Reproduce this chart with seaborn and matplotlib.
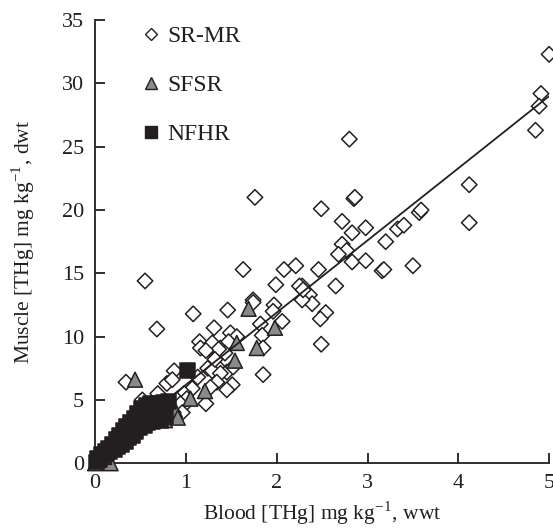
import numpy as np
import pandas as pd
import matplotlib
matplotlib.use("Agg")
import matplotlib.pyplot as plt
from matplotlib.lines import Line2D
import seaborn as sns

# SR-MR (open diamonds)
srmr_blood = [5.00, 4.91, 4.89, 4.85, 4.12, 4.12, 2.80, 2.85, 2.86, 2.49, 2.72, 2.83, 2.98,
              2.72, 2.77, 2.68, 2.83, 2.98, 3.20, 3.33, 3.40, 3.57, 3.59, 3.16, 3.18, 3.50,
              2.46, 2.28, 2.36, 2.39, 2.65, 2.54, 2.48, 2.49, 1.76, 1.63, 2.08, 2.21, 1.99,
              2.25, 1.74, 2.28, 1.08, 1.46, 1.74, 1.97, 1.96, 2.06, 1.82, 1.84, 1.31, 1.49,
              1.56, 1.15, 1.29, 1.38, 1.47, 1.85, 0.68, 0.87, 1.34, 1.43, 0.55, 1.35, 1.45,
              1.52, 1.51, 1.45, 1.85, 1.22, 1.07, 0.98, 0.98, 0.90, 0.79, 0.85, 0.34, 0.69,
              0.52, 1.24, 1.16, 1.36, 1.13, 1.29, 1.38, 1.34, 1.27, 1.01, 0.94, 0.96, 0.86,
              1.22, 1.32, 2.29, 0.05, 0.10, 0.20, 0.30, 0.40, 0.60]
srmr_muscle = [32.3, 29.2, 28.2, 26.3, 22.0, 19.0, 25.6, 20.9, 21.0, 20.1, 19.1, 18.2, 18.6,
               17.3, 16.8, 16.5, 15.9, 16.0, 17.5, 18.5, 18.8, 19.8, 20.0, 15.2, 15.3, 15.6,
               15.3, 14.0, 13.3, 12.6, 14.0, 11.9, 11.4, 9.4, 21.0, 15.3, 15.3, 15.6, 14.1,
               14.0, 12.9, 12.9, 11.8, 12.1, 12.7, 12.5, 12.0, 11.2, 11.0, 10.1, 10.7, 10.3,
               10.0, 9.6, 9.5, 9.1, 9.6, 9.1, 10.6, 7.3, 8.5, 8.7, 14.4, 7.6, 7.2,
               7.6, 6.2, 5.8, 7.0, 4.7, 5.9, 5.5, 4.6, 5.0, 6.3, 6.6, 6.4, 5.5,
               5.0, 7.5, 9.1, 9.0, 6.8, 7.3, 7.1, 6.4, 6.0, 5.1, 4.7, 4.0, 4.0,
               8.9, 8.2, 13.7, 0.3, 0.6, 1.2, 2.0, 2.4, 3.5]

# SFSR (grey triangles)
sfsr_blood = [0.00, 0.17, 0.44, 0.77, 0.88, 0.91, 1.05, 1.21, 1.54, 1.56, 1.69, 1.78, 1.98, 0.10]
sfsr_muscle = [0.0, 0.0, 6.6, 3.4, 4.2, 3.6, 5.1, 5.7, 8.1, 9.5, 12.2, 9.1, 10.7, 0.5]

# NFHR (black squares)
nfhr_blood = [0.01, 0.03, 0.05, 0.07, 0.09, 0.11, 0.13, 0.15, 0.16, 0.19, 0.21, 0.23, 0.25,
              0.27, 0.29, 0.31, 0.33, 0.35, 0.37, 0.39, 0.41, 0.43, 0.45, 0.47, 0.49, 0.51,
              0.54, 0.56, 0.58, 0.61, 0.63, 0.65, 0.68, 0.70, 0.72, 0.75, 0.78, 0.81, 0.60,
              0.66, 0.74, 0.55, 0.48, 1.02]
nfhr_muscle = [0.1, 0.4, 0.3, 0.7, 0.6, 0.9, 0.8, 1.2, 0.9, 1.5, 1.1, 1.9, 1.3,
               2.2, 1.5, 2.6, 1.7, 2.9, 2.0, 3.2, 2.2, 3.5, 2.5, 3.9, 2.8, 4.3,
               3.0, 4.6, 3.2, 4.7, 3.3, 4.6, 3.6, 4.7, 3.4, 4.8, 3.7, 4.9, 4.0,
               4.2, 4.1, 3.6, 3.3, 7.3]

# regression line
fit_slope = 5.7
fit_intercept = 0.5

sites = ["SR-MR", "SFSR", "NFHR"]

df = pd.concat([
    pd.DataFrame({"blood": srmr_blood, "muscle": srmr_muscle, "site": "SR-MR"}),
    pd.DataFrame({"blood": sfsr_blood, "muscle": sfsr_muscle, "site": "SFSR"}),
    pd.DataFrame({"blood": nfhr_blood, "muscle": nfhr_muscle, "site": "NFHR"}),
], ignore_index=True)

sns.set_style("ticks")
plt.rcParams['font.family'] = ['Liberation Serif', 'DejaVu Serif']
plt.rcParams['mathtext.fontset'] = 'stix'

fig = plt.figure(figsize=(5.53, 5.30), dpi=100)
ax = fig.add_axes([0.172, 0.126, 0.821, 0.836])

palette = {"SR-MR": "white", "SFSR": "#8a8a8a", "NFHR": "#231f20"}
markers = {"SR-MR": "D", "SFSR": "^", "NFHR": "s"}
sizes = {"SR-MR": 62, "SFSR": 115, "NFHR": 115}

sns.scatterplot(data=df, x="blood", y="muscle", hue="site", style="site", size="site",
                palette=palette, markers=markers, sizes=sizes, edgecolor="#231f20",
                linewidth=1.1, legend=False, ax=ax, zorder=3, clip_on=False)

xx = np.array([0, 5])
sns.lineplot(x=xx, y=fit_slope * xx + fit_intercept, color="#231f20", linewidth=1.3,
             ax=ax, zorder=4)

ax.set_xlim(0, 5)
ax.set_ylim(0, 35)
ax.set_xticks(range(0, 6))
ax.set_yticks(range(0, 36, 5))
ax.tick_params(direction="in", length=7, width=1.3, labelsize=16, pad=8,
               colors="#231f20", labelcolor="#231f20")
for s in ["left", "bottom"]:
    ax.spines[s].set_linewidth(1.3)
    ax.spines[s].set_color("#231f20")
sns.despine(ax=ax)

ax.set_xlabel(r"Blood [THg] mg kg$^{\mathregular{-1}}$, wwt", fontsize=15.5, labelpad=5,
              color="#231f20")
ax.set_ylabel(r"Muscle [THg] mg kg$^{\mathregular{-1}}$, dwt", fontsize=15.5, labelpad=18,
              color="#231f20")

handles = [
    Line2D([], [], linestyle="none", marker="D", markersize=6, markerfacecolor="white",
           markeredgecolor="#231f20", markeredgewidth=1.0),
    Line2D([], [], linestyle="none", marker="^", markersize=9, markerfacecolor="#8a8a8a",
           markeredgecolor="#231f20", markeredgewidth=1.0),
    Line2D([], [], linestyle="none", marker="s", markersize=8.5, markerfacecolor="#231f20",
           markeredgecolor="#231f20"),
]
ax.legend(handles, sites, loc="upper left", bbox_to_anchor=(0.05, 1.035), frameon=False,
          fontsize=17, labelspacing=1.15, handlelength=1.0, handletextpad=0.2,
          labelcolor="#231f20")

fig.savefig("out.png", dpi=100)
